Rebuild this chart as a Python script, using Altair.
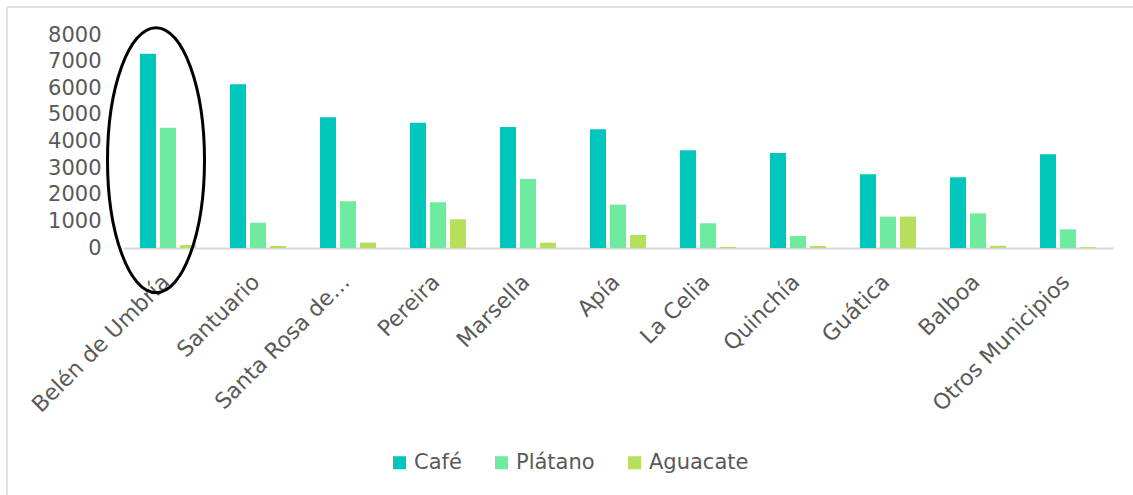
import altair as alt
import pandas as pd

municipios = ["Belén de Umbría", "Santuario", "Santa Rosa de…", "Pereira", "Marsella",
              "Apía", "La Celia", "Quinchía", "Guática", "Balboa", "Otros Municipios"]
cafe = [7300, 6150, 4910, 4700, 4540, 4460, 3670, 3570, 2770, 2660, 3520]
platano = [4520, 950, 1755, 1720, 2595, 1630, 930, 450, 1180, 1300, 700]
aguacate = [110, 75, 200, 1080, 200, 490, 40, 75, 1180, 85, 30]
cultivos = ["Café", "Plátano", "Aguacate"]
colores = ["#00C6BC", "#6FEBA0", "#B6E05C"]
y_ticks = [0, 1000, 2000, 3000, 4000, 5000, 6000, 7000, 8000]

# annotation (ellipse highlighting the first municipio)
resaltado = ["Belén de Umbría"]
resaltado_valor = [3300]

rows = []
for i, m in enumerate(municipios):
    rows.append({"municipio": m, "cultivo": "Café", "valor": cafe[i]})
    rows.append({"municipio": m, "cultivo": "Plátano", "valor": platano[i]})
    rows.append({"municipio": m, "cultivo": "Aguacate", "valor": aguacate[i]})
df = pd.DataFrame(rows)
df_el = pd.DataFrame({"municipio": resaltado, "valor": resaltado_valor})

FONT = "DejaVu Sans"
GRAY = "#595959"

x_axis = alt.Axis(labelAngle=-45, labelAlign="right", labelBaseline="middle",
                  labelFontSize=22, labelColor=GRAY, labelFont=FONT,
                  labelPadding=30, labelOffset=-2, ticks=False,
                  domainColor="#d9d9d9", domainWidth=2, labelLimit=400)
y_axis = alt.Axis(values=y_ticks, format="d", labelOverlap=False, tickCount=9,
                  domain=False, ticks=False, grid=False,
                  labelFontSize=21, labelColor=GRAY, labelFont=FONT, labelPadding=22)
x_scale = alt.Scale(paddingInner=0, paddingOuter=0)
y_scale = alt.Scale(domain=[0, 8000], nice=False)

bars = alt.Chart(df).mark_bar().encode(
    x=alt.X("municipio:N", sort=municipios, title=None, scale=x_scale, axis=x_axis),
    xOffset=alt.XOffset("cultivo:N", sort=cultivos,
                        scale=alt.Scale(paddingInner=0.2, paddingOuter=0.85)),
    y=alt.Y("valor:Q", title=None, scale=y_scale, axis=y_axis),
    color=alt.Color("cultivo:N", sort=cultivos,
                    scale=alt.Scale(domain=cultivos, range=colores),
                    legend=alt.Legend(title=None, orient="none", direction="horizontal",
                                      legendX=266, legendY=417, symbolType="square",
                                      symbolSize=170, symbolStrokeWidth=0,
                                      labelFontSize=21, labelColor=GRAY, labelFont=FONT,
                                      columnPadding=29, labelOffset=4)),
)

ellipse_path = "M -0.366,0 A 0.366,1 0 1,1 0.366,0 A 0.366,1 0 1,1 -0.366,0 Z"
elipse = alt.Chart(df_el).mark_point(shape=ellipse_path, filled=False, stroke="black",
                                     strokeWidth=3, size=70225, opacity=1).encode(
    x=alt.X("municipio:N", sort=municipios, title=None, scale=x_scale, axis=x_axis),
    xOffset=alt.value(33),
    y=alt.Y("valor:Q", title=None, scale=y_scale, axis=y_axis),
)

border_top = alt.Chart(df_el).mark_rule(color="#d9d9d9", strokeWidth=1.5).encode(
    x=alt.value(-116), x2=alt.value(1010), y=alt.value(-28))
border_left = alt.Chart(df_el).mark_rule(color="#d9d9d9", strokeWidth=1.5).encode(
    x=alt.value(-116), y=alt.value(-28), y2=alt.value(470))

chart = alt.layer(border_top, border_left, bars, elipse).properties(
    width=990, height=213,
    autosize=alt.AutoSizeParams(type="none"),
    padding={"left": 123, "top": 35, "right": 20, "bottom": 247},
    background="white",
).configure_view(stroke=None)

chart.save("out.html", embed_options={"renderer": "svg", "actions": False})
